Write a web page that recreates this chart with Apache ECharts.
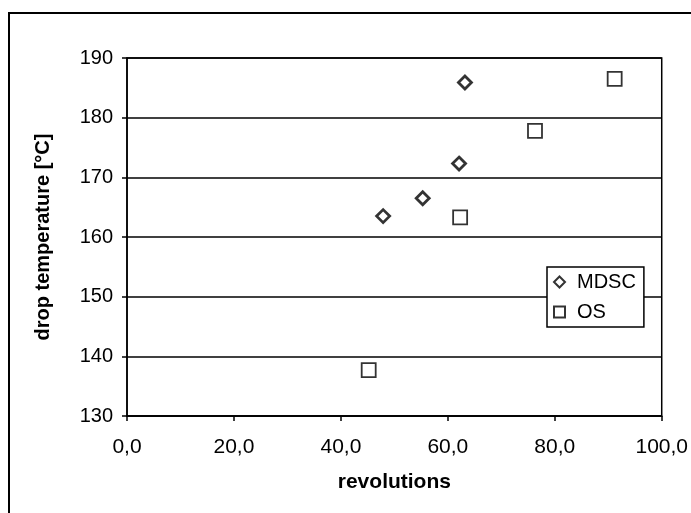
<!DOCTYPE html>
<html><head><meta charset="utf-8">
<script src="https://cdn.jsdelivr.net/npm/echarts@6/dist/echarts.min.js"></script>
<style>
html,body{margin:0;padding:0;background:#fff;}
#frame{position:absolute;left:8px;top:12px;width:700px;height:520px;border:2px solid #000;box-sizing:border-box;}
#c{position:absolute;left:0;top:0;width:691px;height:513px;}
</style></head>
<body>
<div id="frame"></div>
<div id="c"></div>
<script>
const mdscX = [63.2, 62.1, 55.3, 47.9];
const mdscY = [185.9, 172.3, 166.5, 163.5];
const osX = [91.2, 76.3, 62.3, 45.2];
const osY = [186.5, 177.8, 163.3, 137.7];
const seriesNames = ['MDSC', 'OS'];
const xTitle = 'revolutions';
const yTitle = 'drop temperature [°C]';

const pair = (xs, ys) => xs.map((x, i) => [x, ys[i]]);
const font = 'Liberation Sans, Arial, sans-serif';
const chart = echarts.init(document.getElementById('c'), null, {renderer: 'canvas'});
chart.setOption({
  backgroundColor: 'transparent',
  animation: false,
  grid: {left: 127, right: 28, top: 58, bottom: 97, show: true, borderColor: '#000', borderWidth: 1.5, backgroundColor: 'transparent'},
  xAxis: {
    type: 'value', min: 0, max: 100, interval: 20,
    name: xTitle, nameLocation: 'middle', nameGap: 56, nameMoveOverlap: false,
    nameTextStyle: {fontFamily: font, fontWeight: 'bold', fontSize: 21, color: '#000'},
    axisLine: {show: true, lineStyle: {color: '#000', width: 1.5}},
    axisTick: {show: true, inside: false, length: 5, lineStyle: {color: '#000', width: 1.5}},
    axisLabel: {fontFamily: font, fontSize: 21, color: '#000', margin: 21, formatter: v => v.toFixed(1).replace('.', ',')},
    splitLine: {show: false}
  },
  yAxis: {
    type: 'value', min: 130, max: 190, interval: 10,
    name: yTitle, nameLocation: 'middle', nameGap: 74, nameRotate: 90, nameMoveOverlap: false,
    nameTextStyle: {fontFamily: font, fontWeight: 'bold', fontSize: 20, color: '#000'},
    axisLine: {show: true, lineStyle: {color: '#000', width: 1.5}},
    axisTick: {show: true, inside: false, length: 5, lineStyle: {color: '#000', width: 1.5}},
    axisLabel: {fontFamily: font, fontSize: 20, color: '#000', margin: 14},
    splitLine: {show: true, lineStyle: {color: '#000', width: 1.5}}
  },
  legend: {
    left: 547, top: 267, orient: 'vertical',
    backgroundColor: '#fff', borderColor: '#000', borderWidth: 1.5,
    padding: [5, 8, 5, 6], itemGap: 10, itemWidth: 11, itemHeight: 11,
    textStyle: {fontFamily: font, fontSize: 20, color: '#000', padding: [0, 0, 0, 7]},
    data: [{name: seriesNames[0], icon: 'diamond'}, {name: seriesNames[1], icon: 'rect'}]
  },
  series: [
    {name: seriesNames[0], type: 'scatter', symbol: 'diamond', symbolSize: 13, data: pair(mdscX, mdscY),
     itemStyle: {color: '#fff', borderColor: '#000', borderWidth: 2.8}},
    {name: seriesNames[1], type: 'scatter', symbol: 'rect', symbolSize: 14, data: pair(osX, osY),
     itemStyle: {color: '#fff', borderColor: '#000', borderWidth: 1.8}}
  ]
});
</script>
</body></html>
